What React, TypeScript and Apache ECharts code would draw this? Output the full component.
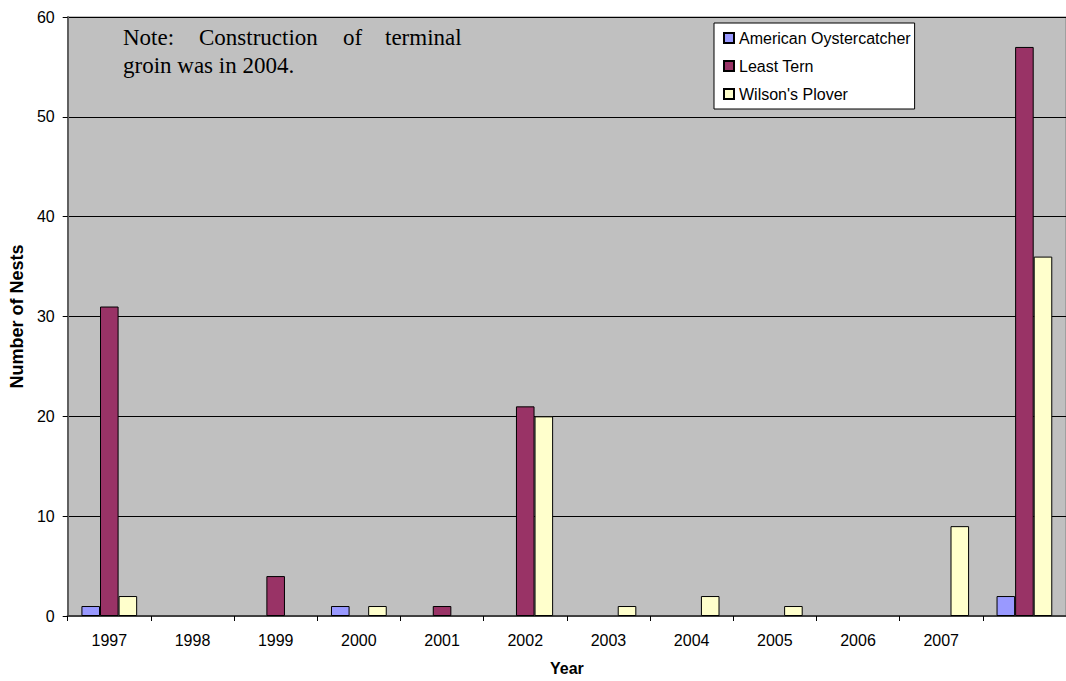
import React, { useEffect, useRef } from "react";
import * as echarts from "echarts";

const years = ["1997", "1998", "1999", "2000", "2001", "2002", "2003", "2004", "2005", "2006", "2007", "2008"];
const oystercatcher = [1, 0, 0, 1, 0, 0, 0, 0, 0, 0, 0, 2];
const leastTern = [31, 0, 4, 0, 1, 21, 0, 0, 0, 0, 0, 57];
const wilsonsPlover = [2, 0, 0, 1, 0, 20, 1, 2, 1, 0, 9, 36];
const yTicks = { min: 0, max: 60, interval: 10 };

export default function App() {
  const ref = useRef<HTMLDivElement>(null);
  useEffect(() => {
    const chart = echarts.init(ref.current!, null, { renderer: "svg" });
    const mkSeries = (name: string, data: number[], color: string) => ({
      name,
      type: "bar",
      // zero counts draw no bar at all in the reference
      data: data.map((v) => (v === 0 ? null : v)),
      barGap: "0%",
      barCategoryGap: "33%",
      itemStyle: { color, borderColor: "#000", borderWidth: 1 },
    });
    const serif = "'Liberation Serif', 'Times New Roman', serif";
    chart.setOption({
      animation: false,
      textStyle: { fontFamily: "'Liberation Sans', Arial, sans-serif" },
      grid: {
        left: 67,
        top: 17,
        width: 1007,
        height: 601,
        show: true,
        backgroundColor: "#C0C0C0",
        borderColor: "#808080",
        borderWidth: 1,
      },
      legend: {
        orient: "vertical",
        left: 714,
        top: 23,
        backgroundColor: "#fff",
        borderColor: "#000",
        borderWidth: 1,
        padding: [6, 4, 6, 9],
        itemWidth: 10,
        itemHeight: 10,
        itemGap: 10,
        icon: "rect",
        textStyle: { fontSize: 16, color: "#000", lineHeight: 18, fontFamily: "'Liberation Sans', Arial, sans-serif" },
        data: ["American Oystercatcher", "Least Tern", "Wilson's Plover"],
      },
      xAxis: {
        type: "category",
        data: years,
        boundaryGap: true,
        name: "Year",
        nameLocation: "middle",
        nameGap: 44,
        nameTextStyle: { fontSize: 16, fontWeight: "bold", color: "#000" },
        axisLine: { show: true, lineStyle: { color: "#404040", width: 2 } },
        axisTick: { show: true, length: 5, interval: 0, lineStyle: { color: "#000" } },
        axisLabel: {
          interval: 0,
          fontSize: 16,
          color: "#000",
          margin: 16,
          formatter: (v: string, i: number) => (i === years.length - 1 ? "" : v),
        },
      },
      yAxis: {
        type: "value",
        min: yTicks.min,
        max: yTicks.max,
        interval: yTicks.interval,
        name: "Number of Nests",
        nameLocation: "middle",
        nameGap: 40,
        nameRotate: 90,
        nameTextStyle: { fontSize: 18, fontWeight: "bold", color: "#000" },
        axisLine: { show: true, lineStyle: { color: "#606060", width: 2 } },
        axisTick: { show: true, length: 5, lineStyle: { color: "#000" } },
        axisLabel: { fontSize: 16, color: "#000", margin: 13 },
        splitLine: { show: true, lineStyle: { color: "#000", width: 1 } },
      },
      graphic: [
        { type: "text", left: 123, top: 26, style: { text: "Note:", font: `23px ${serif}`, fill: "#000" } },
        { type: "text", left: 199, top: 26, style: { text: "Construction", font: `23px ${serif}`, fill: "#000" } },
        { type: "text", left: 343, top: 26, style: { text: "of", font: `23px ${serif}`, fill: "#000" } },
        { type: "text", left: 385, top: 26, style: { text: "terminal", font: `23px ${serif}`, fill: "#000" } },
        { type: "text", left: 123, top: 54, style: { text: "groin was in 2004.", font: `23px ${serif}`, fill: "#000" } },
      ],
      series: [
        mkSeries("American Oystercatcher", oystercatcher, "#9999FF"),
        mkSeries("Least Tern", leastTern, "#993366"),
        mkSeries("Wilson's Plover", wilsonsPlover, "#FFFFCC"),
      ],
    });
    return () => chart.dispose();
  }, []);
  return (
    <div
      ref={ref}
      style={{ position: "fixed", left: 0, top: 0, width: 1066, height: 681, background: "#fff" }}
    />
  );
}
